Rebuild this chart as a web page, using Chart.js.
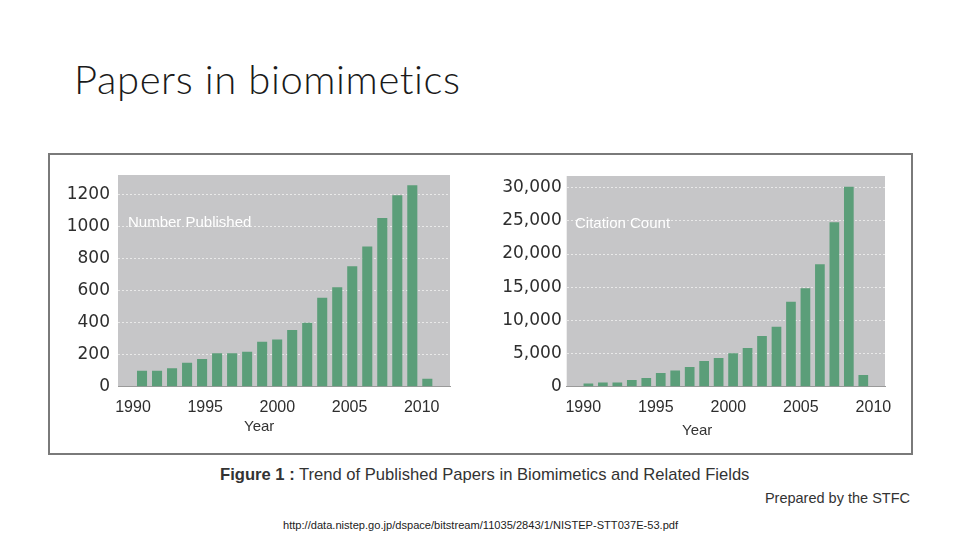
<!DOCTYPE html>
<html>
<head>
<meta charset="utf-8">
<script src="https://cdn.jsdelivr.net/npm/chart.js@4.4.1/dist/chart.umd.min.js"></script>
<style>
  html, body { margin: 0; padding: 0; background: #fff; }
  body { width: 960px; height: 540px; position: relative; overflow: hidden; font-family: "Liberation Sans", Arial, sans-serif; }
  .abs { position: absolute; white-space: nowrap; }
  #title { left: 74px; top: 55px; font-family: Lato, "Open Sans", sans-serif; font-weight: 300; font-size: 40px; letter-spacing: 0.6px; color: #1a1a1a; }
  #frame { left: 48px; top: 153px; width: 865px; height: 302px; border: 2px solid #7a7a7a; box-sizing: border-box; }
  .box { position: absolute; top: 165px; height: 280px; }
  #leftBox { left: 55px; width: 400px; }
  #rightBox { left: 485px; width: 420px; }
  .inner { color: #fff; font-size: 15px; }
  .year { font-size: 15px; color: #333; }
  #caption { left: 220px; top: 465px; font-size: 16.6px; color: #333; }
  #prepared { right: 50px; top: 490px; font-size: 14.5px; color: #333; }
  #url { left: 283px; top: 519px; font-size: 11.1px; color: #222; }
</style>
</head>
<body>
<div class="abs" id="title">Papers in biomimetics</div>
<div class="abs" id="frame"></div>
<div class="box" id="leftBox"><canvas id="leftChart" width="400" height="280"></canvas></div>
<div class="box" id="rightBox"><canvas id="rightChart" width="420" height="280"></canvas></div>
<div class="abs inner" style="left:128px; top:213px;">Number Published</div>
<div class="abs inner" style="left:575px; top:214px;">Citation Count</div>
<div class="abs year" style="left:244px; top:417px;">Year</div>
<div class="abs year" style="left:682px; top:421px;">Year</div>
<div class="abs" id="caption"><b>Figure 1 :</b> Trend of Published Papers in Biomimetics and Related Fields</div>
<div class="abs" id="prepared">Prepared by the STFC</div>
<div class="abs" id="url">http://data.nistep.go.jp/dspace/bitstream/11035/2843/1/NISTEP-STT037E-53.pdf</div>

<script>
// data
const years = [1991, 1992, 1993, 1994, 1995, 1996, 1997, 1998, 1999, 2000,
               2001, 2002, 2003, 2004, 2005, 2006, 2007, 2008, 2009, 2010];
const published = [100, 100, 115, 150, 173, 208, 208, 218, 281, 295,
                   354, 399, 555, 620, 751, 874, 1052, 1194, 1256, 50];
const citations = [500, 650, 650, 1000, 1300, 2060, 2460, 2960, 3870, 4320,
                   5030, 5830, 7640, 9050, 12800, 14850, 18440, 24780, 30150, 1760];
const yearTicks = [1990, 1995, 2000, 2005, 2010];
const publishedTicks = [0, 200, 400, 600, 800, 1000, 1200];
const citationTicks = [0, 5000, 10000, 15000, 20000, 25000, 30000];

const barColor = '#5b9e79';
const plotBg = '#c6c6c8';

const plotBackground = {
  id: 'plotBackground',
  beforeDraw(chart) {
    const { ctx, chartArea: a } = chart;
    ctx.save();
    ctx.fillStyle = plotBg;
    ctx.fillRect(a.left, a.top, a.right - a.left, a.bottom - a.top);
    ctx.restore();
  }
};

function makeChart(id, values, opts) {
  const ctx = document.getElementById(id).getContext('2d');
  return new Chart(ctx, {
    type: 'bar',
    data: {
      datasets: [{
        data: years.map((y, i) => ({ x: y, y: values[i] })),
        backgroundColor: barColor,
        borderWidth: 0,
        categoryPercentage: 1,
        barPercentage: 0.67
      }]
    },
    options: {
      responsive: false,
      animation: false,
      layout: { padding: { top: opts.padTop, right: opts.padRight, left: 0, bottom: 0 } },
      plugins: { legend: { display: false }, tooltip: { enabled: false } },
      scales: {
        // axis the bars sit on; kept in the layout but with nothing drawn
        x: {
          type: 'linear', position: 'bottom', offset: false,
          min: opts.barMin, max: opts.barMax,
          grid: { display: false, drawTicks: false, offset: false },
          border: { display: false },
          ticks: { display: false },
          afterFit: s => { s.height = 0; s.paddingLeft = 0; s.paddingRight = 0; }
        },
        // axis that carries the year labels
        xt: {
          type: 'linear', position: 'bottom', offset: false,
          min: opts.tickMin, max: opts.tickMax,
          grid: { display: false, drawTicks: false, offset: false },
          border: { display: true, color: '#9a9a9a', width: 1 },
          afterBuildTicks: s => { s.ticks = yearTicks.map(v => ({ value: v })); },
          afterFit: s => { s.height = opts.xHeight; s.paddingLeft = 0; s.paddingRight = 0; },
          ticks: {
            padding: 11,
            maxRotation: 0,
            autoSkip: false,
            color: '#2e2e2e',
            font: { family: 'Liberation Sans', size: 16 },
            callback: v => String(v)
          }
        },
        y: {
          min: 0, max: opts.yMax,
          afterBuildTicks: s => { s.ticks = opts.yTicks.map(v => ({ value: v })); },
          afterFit: s => { s.width = opts.yWidth; s.paddingTop = 0; s.paddingBottom = 0; },
          border: { display: false, dash: [2, 2] },
          grid: { color: 'rgba(238,238,238,0.85)', drawTicks: false, lineWidth: 1 },
          ticks: {
            padding: opts.yPad,
            color: '#2e2e2e',
            font: { family: 'DejaVu Sans', size: 17 },
            callback: opts.yFormat
          }
        }
      }
    },
    plugins: [plotBackground]
  });
}

makeChart('leftChart', published, {
  padTop: 10, padRight: 5, xHeight: 58.3, yWidth: 63, yPad: 8,
  barMin: 1989.4, barMax: 2011.51, tickMin: 1988.96, tickMax: 2011.96,
  yMax: 1320, yTicks: publishedTicks, yFormat: v => String(v)
});

makeChart('rightChart', citations, {
  padTop: 11, padRight: 20, xHeight: 58.3, yWidth: 81.7, yPad: 5,
  barMin: 1989.5, barMax: 2011.5, tickMin: 1988.86, tickMax: 2010.8,
  yMax: 31760, yTicks: citationTicks, yFormat: v => v.toLocaleString('en-US')
});
</script>
</body>
</html>
